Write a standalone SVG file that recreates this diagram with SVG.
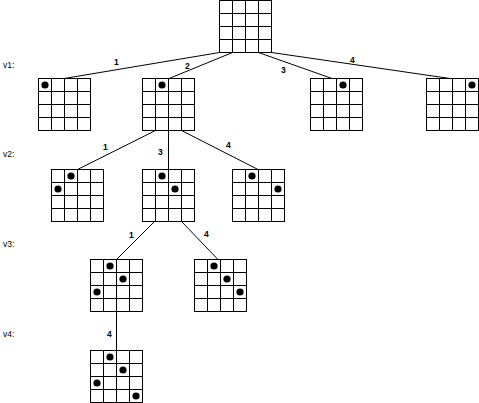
<svg xmlns="http://www.w3.org/2000/svg" xmlns:xlink="http://www.w3.org/1999/xlink" width="479" height="403" viewBox="0 0 479 403">
<style>
.g{fill:#fff;stroke:#000;stroke-width:1}
.c{stroke:#000;stroke-width:1;fill:none}
.d{fill:#000}
.t{font-family:"Liberation Sans",Arial,sans-serif;font-size:8.5px;fill:#000}
.n{font-family:"Liberation Sans",Arial,sans-serif;font-size:8.5px;font-weight:bold;fill:#000}
</style>
<defs>
<g id="grid">
<rect class="g" x="0" y="0" width="52" height="52"/>
<path class="c" d="M13,0V52M26,0V52M39,0V52M0,13H52M0,26H52M0,39H52"/>
</g>
</defs>
<rect width="479" height="403" fill="#fff"/>
<g id="levels">
<text class="t" x="3" y="68">v1:</text>
<text class="t" x="3" y="157">v2:</text>
<text class="t" x="3" y="247">v3:</text>
<text class="t" x="3" y="337">v4:</text>
</g>
<g id="connectors">
<path class="c" d="M219.5,52.5L64,78.5"/>
<path class="c" d="M232.5,52.5L169,78.5"/>
<path class="c" d="M258.5,52.5L332,78.5"/>
<path class="c" d="M271.5,52.5L450,78.5"/>
<path class="c" d="M155.5,130.5L77.5,169.5"/>
<path class="c" d="M168.5,130.5L168.5,169.5"/>
<path class="c" d="M181.5,130.5L258,169.5"/>
<path class="c" d="M155,221L116.5,259.5"/>
<path class="c" d="M181,221L218,259.5"/>
<path class="c" d="M116.5,311.5L116.5,350.5"/>
<text class="n" x="114" y="65">1</text>
<text class="n" x="185" y="69">2</text>
<text class="n" x="281" y="73">3</text>
<text class="n" x="350" y="63">4</text>
<text class="n" x="103" y="150">1</text>
<text class="n" x="158" y="155">3</text>
<text class="n" x="226" y="148">4</text>
<text class="n" x="129" y="238">1</text>
<text class="n" x="204" y="237">4</text>
<text class="n" x="107" y="337">4</text>
</g>
<g id="root" transform="translate(219.5,0.5)"><use xlink:href="#grid"/></g>
<g id="v1a" transform="translate(38.5,78.5)"><use xlink:href="#grid"/><circle class="d" cx="6.5" cy="6.5" r="3.6"/></g>
<g id="v1b" transform="translate(142.5,78.5)"><use xlink:href="#grid"/><circle class="d" cx="19.5" cy="6.5" r="3.6"/></g>
<g id="v1c" transform="translate(310.5,78.5)"><use xlink:href="#grid"/><circle class="d" cx="32.5" cy="6.5" r="3.6"/></g>
<g id="v1d" transform="translate(426.5,78.5)"><use xlink:href="#grid"/><circle class="d" cx="45.5" cy="6.5" r="3.6"/></g>
<g id="v2a" transform="translate(51.5,169.5)"><use xlink:href="#grid"/><circle class="d" cx="19.5" cy="6.5" r="3.6"/><circle class="d" cx="6.5" cy="19.5" r="3.6"/></g>
<g id="v2b" transform="translate(142.5,169.5)"><use xlink:href="#grid"/><circle class="d" cx="19.5" cy="6.5" r="3.6"/><circle class="d" cx="32.5" cy="19.5" r="3.6"/></g>
<g id="v2c" transform="translate(232.5,169.5)"><use xlink:href="#grid"/><circle class="d" cx="19.5" cy="6.5" r="3.6"/><circle class="d" cx="45.5" cy="19.5" r="3.6"/></g>
<g id="v3a" transform="translate(90.5,259.5)"><use xlink:href="#grid"/><circle class="d" cx="19.5" cy="6.5" r="3.6"/><circle class="d" cx="32.5" cy="19.5" r="3.6"/><circle class="d" cx="6.5" cy="32.5" r="3.6"/></g>
<g id="v3b" transform="translate(194.5,259.5)"><use xlink:href="#grid"/><circle class="d" cx="19.5" cy="6.5" r="3.6"/><circle class="d" cx="32.5" cy="19.5" r="3.6"/><circle class="d" cx="45.5" cy="32.5" r="3.6"/></g>
<g id="v4a" transform="translate(90.5,350.5)"><use xlink:href="#grid"/><circle class="d" cx="19.5" cy="6.5" r="3.6"/><circle class="d" cx="32.5" cy="19.5" r="3.6"/><circle class="d" cx="6.5" cy="32.5" r="3.6"/><circle class="d" cx="45.5" cy="45.5" r="3.6"/></g>
</svg>
